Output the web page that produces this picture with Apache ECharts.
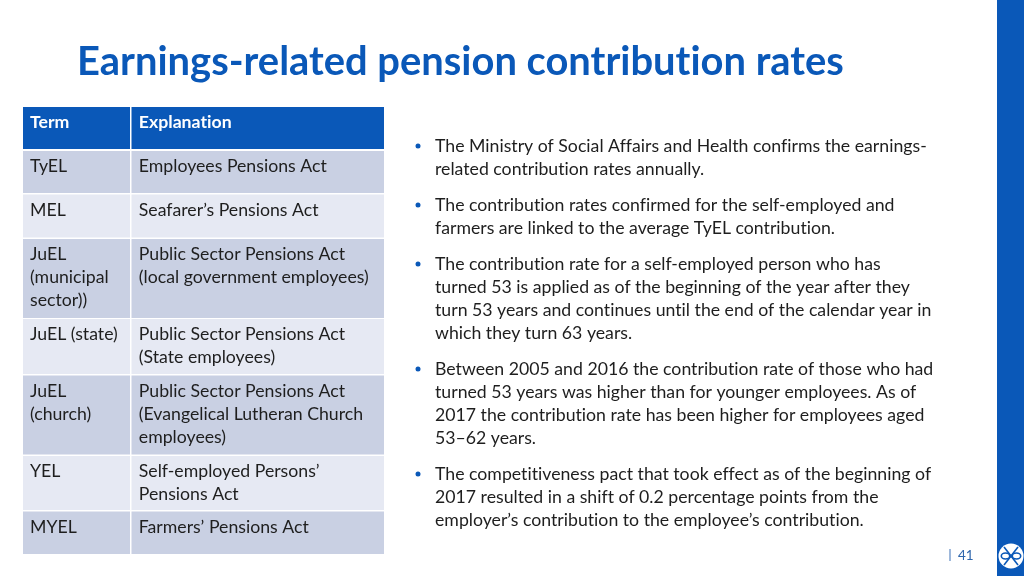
<!DOCTYPE html>
<html>
<head>
<meta charset="utf-8">
<style>
html, body { margin: 0; padding: 0; background: #fff; }
#main { width: 1024px; height: 576px; }
</style>
<script src="https://cdn.jsdelivr.net/npm/echarts@6/dist/echarts.min.js"></script>
</head>
<body>
<div id="main"></div>
<script>
// Slide content
const slideTitle = 'Earnings-related pension contribution rates';
const pageNumber = '41';
const tableHeader = ['Term', 'Explanation'];
const terms = [
    ['TyEL'],
    ['MEL'],
    ['JuEL', '(municipal', 'sector))'],
    ['JuEL (state)'],
    ['JuEL', '(church)'],
    ['YEL'],
    ['MYEL']
];
const explanations = [
    ['Employees Pensions Act'],
    ['Seafarer’s Pensions Act'],
    ['Public Sector Pensions Act', '(local government employees)'],
    ['Public Sector Pensions Act', '(State employees)'],
    ['Public Sector Pensions Act', '(Evangelical Lutheran Church', 'employees)'],
    ['Self-employed Persons’', 'Pensions Act'],
    ['Farmers’ Pensions Act']
];
const bullets = [
    ['The Ministry of Social Affairs and Health confirms the earnings-', 'related contribution rates annually.'],
    ['The contribution rates confirmed for the self-employed and', 'farmers are linked to the average TyEL contribution.'],
    ['The contribution rate for a self-employed person who has', 'turned 53 is applied as of the beginning of the year after they', 'turn 53 years and continues until the end of the calendar year in', 'which they turn 63 years.'],
    ['Between 2005 and 2016 the contribution rate of those who had', 'turned 53 years was higher than for younger employees. As of', '2017 the contribution rate has been higher for employees aged', '53–62 years.'],
    ['The competitiveness pact that took effect as of the beginning of', '2017 resulted in a shift of 0.2 percentage points from the', 'employer’s contribution to the employee’s contribution.']
];

// Layout
const FONT = 'Lato';
const BLUE = '#0a58b8';
const TEXT = '#1e1e1e';
const LINE_H = 23;
const FS = 17.7;
const rowTops = [107, 151, 194.5, 239, 319, 375.5, 456, 511.5];
const rowBottoms = [149, 193, 237.5, 318, 374, 454.5, 510, 554];
const colLefts = [23, 131.5];
const colRights = [130, 384];
const bulletTops = [146, 205, 264, 369, 474];

// no ligatures, the reference has none
const _getContext = HTMLCanvasElement.prototype.getContext;
HTMLCanvasElement.prototype.getContext = function () {
    const ctx = _getContext.apply(this, arguments);
    if (ctx && 'textRendering' in ctx) ctx.textRendering = 'optimizeSpeed';
    return ctx;
};

const cells = [];
rowTops.forEach((t, r) => colLefts.forEach((l, c) => cells.push([r, c])));

function cellLines(r, c) {
    if (r === 0) return [tableHeader[c]];
    return (c === 0 ? terms : explanations)[r - 1];
}

function renderCell(params, api) {
    const r = api.value(0), c = api.value(1);
    const tl = api.coord([colLefts[c], rowTops[r]]);
    const br = api.coord([colRights[c], rowBottoms[r]]);
    const fill = r === 0 ? BLUE : (r % 2 === 1 ? '#c9d0e3' : '#e6e9f3');
    const children = [{
        type: 'rect',
        shape: {x: tl[0], y: tl[1], width: br[0] - tl[0], height: br[1] - tl[1]},
        style: {fill: fill}
    }];
    cellLines(r, c).forEach((line, i) => {
        children.push({
            type: 'text',
            style: {
                x: tl[0] + (c === 0 ? 7 : 7.3),
                y: tl[1] + 15.5 + i * LINE_H,
                text: line,
                fill: r === 0 ? '#ffffff' : TEXT,
                font: (r === 0 ? 'bold ' : '') + FS + 'px ' + FONT,
                textVerticalAlign: 'middle'
            }
        });
    });
    return {type: 'group', children: children};
}

// Right hand text, side band and logo
const graphics = [
    {type: 'rect', shape: {x: 997, y: 0, width: 27, height: 576}, style: {fill: BLUE}},
    {type: 'text', style: {x: 77, y: 62.5, text: slideTitle, fill: BLUE, font: 'bold 39.9px ' + FONT, textVerticalAlign: 'middle'}},
    {type: 'rect', shape: {x: 949.5, y: 549, width: 1, height: 12}, style: {fill: '#3f73b8'}},
    {type: 'text', style: {x: 958, y: 555.5, text: pageNumber, fill: '#2f66ad', font: '13.5px ' + FONT, textVerticalAlign: 'middle'}},
    {type: 'circle', shape: {cx: 1011, cy: 556, r: 12.5}, style: {fill: '#ffffff'}},
    {type: 'line', shape: {x1: 1004, y1: 547, x2: 1018, y2: 565}, style: {stroke: BLUE, lineWidth: 1.6}},
    {type: 'line', shape: {x1: 1018, y1: 547, x2: 1004, y2: 565}, style: {stroke: BLUE, lineWidth: 1.6}},
    {type: 'ellipse', shape: {cx: 1005.5, cy: 556, rx: 4.2, ry: 3}, style: {fill: '#ffffff', stroke: BLUE, lineWidth: 1.6}},
    {type: 'ellipse', shape: {cx: 1016.5, cy: 556, rx: 4.2, ry: 3}, style: {fill: '#ffffff', stroke: BLUE, lineWidth: 1.6}},
    {type: 'circle', shape: {cx: 1011, cy: 556, r: 1.5}, style: {fill: BLUE}}
];
bullets.forEach((lines, b) => {
    graphics.push({type: 'circle', shape: {cx: 418, cy: bulletTops[b], r: 2.5}, style: {fill: BLUE}});
    lines.forEach((line, i) => {
        graphics.push({
            type: 'text',
            style: {
                x: 435,
                y: bulletTops[b] + i * LINE_H,
                text: line,
                fill: TEXT,
                font: FS + 'px ' + FONT,
                textVerticalAlign: 'middle'
            }
        });
    });
});

const myChart = echarts.init(document.getElementById('main'), null, {renderer: 'canvas'});
myChart.setOption({
    animation: false,
    backgroundColor: '#ffffff',
    grid: {left: 0, right: 0, top: 0, bottom: 0},
    xAxis: {type: 'value', min: 0, max: 1024, show: false},
    yAxis: {type: 'value', min: 0, max: 576, inverse: true, show: false},
    series: [{
        type: 'custom',
        renderItem: renderCell,
        data: cells,
        clip: false,
        silent: true
    }],
    graphic: graphics
});
</script>
</body>
</html>
